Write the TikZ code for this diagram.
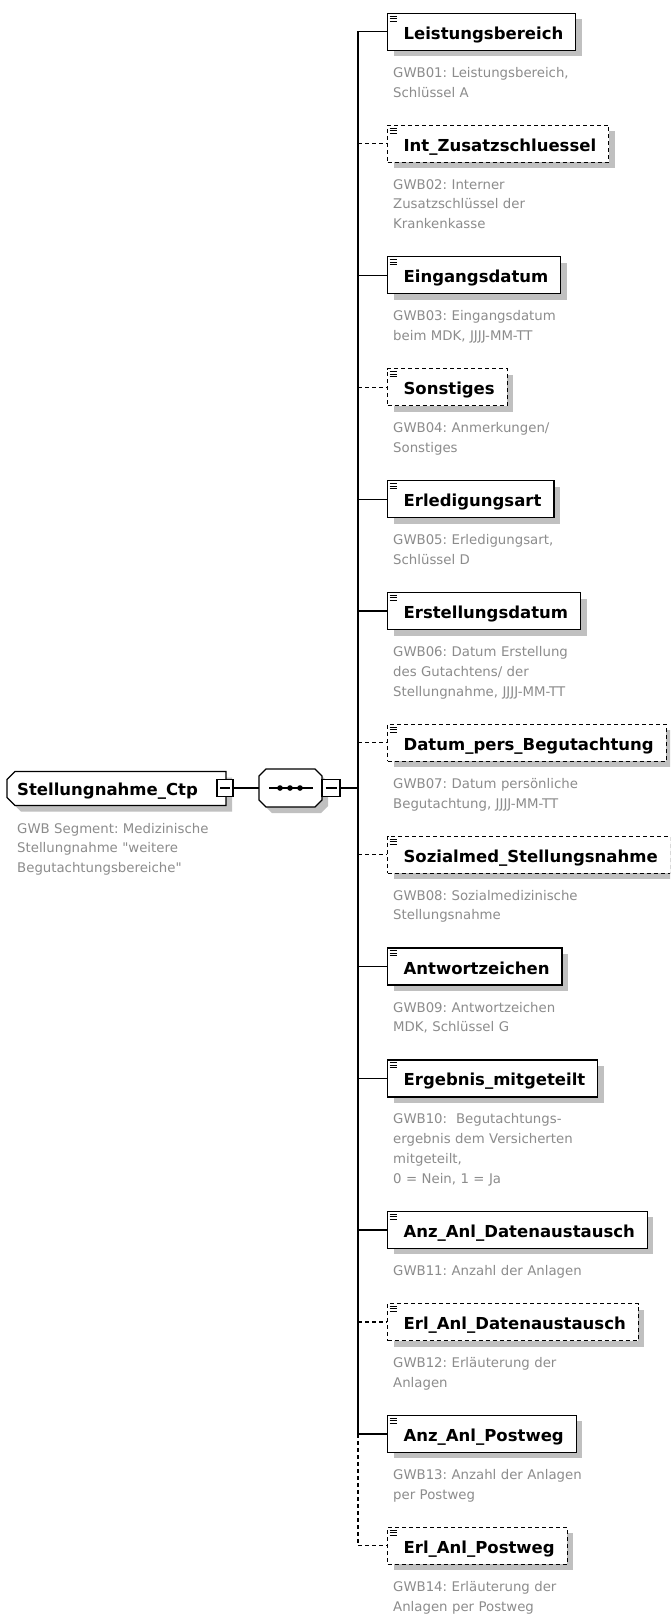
\documentclass[tikz,border=0pt]{standalone}
\usepackage{fontspec}
\setmainfont{DejaVu Sans}
\newfontfamily\qfont{DejaVu Sans}
\usetikzlibrary{shadows}
\definecolor{descgray}{RGB}{140,140,140}
\definecolor{shadowgray}{RGB}{192,192,192}
\frenchspacing
\begin{document}
\begin{tikzpicture}[x=1pt,y=-1pt,
  elem/.style={draw=black, line width=1.2pt, fill=white, anchor=west,
    minimum height=37pt, inner ysep=0pt, inner xsep=12.5pt,
    text height=17.5pt, text depth=2.5pt,
    font=\fontsize{16.5}{20}\selectfont\bfseries,
    drop shadow={shadow xshift=6pt, shadow yshift=-6pt, fill=shadowgray, opacity=1, draw=none}},
  optelem/.style={elem, dash pattern=on 4pt off 3pt},
  desc/.style={anchor=base west, inner sep=0pt, text width=270pt, align=left,
    text=descgray, font=\fontsize{13.3}{19.8}\selectfont},
  conn/.style={line width=1.2pt, draw=black},
  optconn/.style={conn, dash pattern=on 4pt off 3pt},
  pmbox/.style={draw=black, line width=1.2pt, fill=white, minimum width=16pt, minimum height=17pt, inner sep=0pt},
  iconline/.style={line width=0.9pt, draw=black}
]
\useasboundingbox (0,0) rectangle (670,1615);
\fill[white] (0,0) rectangle (670,1615);
\clip (0,0) rectangle (670,1615);

% root element
\fill[shadowgray] (21,777.5) -- (232,777.5) -- (232,811.5) -- (21,811.5) -- (13,803.5) -- (13,785.5) -- cycle;
\draw[conn, fill=white] (15,771.5) -- (226,771.5) -- (226,805.5) -- (15,805.5) -- (7,797.5) -- (7,779.5) -- cycle;
\node[anchor=base west, inner sep=0pt, font=\fontsize{16.5}{20}\selectfont\bfseries] (root) at (17,795) {Stellungnahme\_Ctp};
\node[pmbox] (rootpm) at (225,788) {};
\draw[conn] ([xshift=-5pt]rootpm.center) -- ([xshift=5pt]rootpm.center);
\node[desc] (rootdesc) at (17,833) {GWB Segment: Medizinische\\Stellungnahme {\qfont"}weitere\\Begutachtungsbereiche{\qfont"}};

% sequence compositor
\node[minimum width=63pt, minimum height=38pt, inner sep=0pt] (seq) at (290.5,788) {};
\fill[shadowgray] (272,775) -- (321,775) -- (328,782) -- (328,806) -- (321,813) -- (272,813) -- (265,806) -- (265,782) -- cycle;
\draw[conn, fill=white] (266,769) -- (315,769) -- (322,776) -- (322,800) -- (315,807) -- (266,807) -- (259,800) -- (259,776) -- cycle;
\draw[conn] (269,788) -- (313,788);
\foreach \x in {280,290,300} \fill[black] (\x,788) circle (2.8);
\node[pmbox, minimum width=18pt] (seqpm) at (331,788) {};
\draw[conn] ([xshift=-5.5pt]seqpm.center) -- ([xshift=5.5pt]seqpm.center);

\coordinate (busx) at (358,0);

% child elements
\node[elem]    (e1)  at (387,31.7)   {\hspace*{3.5pt}Leistungsbereich};
\node[optelem] (e2)  at (387,143.6)  {\hspace*{3.5pt}Int\_Zusatzschluessel};
\node[elem]    (e3)  at (387,275.3)  {\hspace*{3.5pt}Eingangsdatum};
\node[optelem] (e4)  at (387,387.2)  {\hspace*{3.5pt}Sonstiges};
\node[elem]    (e5)  at (387,499.1)  {\hspace*{3.5pt}Erledigungsart};
\node[elem]    (e6)  at (387,611.0)  {\hspace*{3.5pt}Erstellungsdatum};
\node[optelem] (e7)  at (387,742.7)  {\hspace*{3.5pt}Datum\_pers\_Begutachtung};
\node[optelem] (e8)  at (387,854.6)  {\hspace*{3.5pt}Sozialmed\_Stellungsnahme};
\node[elem]    (e9)  at (387,966.5)  {\hspace*{3.5pt}Antwortzeichen};
\node[elem]    (e10) at (387,1078.4) {\hspace*{3.5pt}Ergebnis\_mitgeteilt};
\node[elem]    (e11) at (387,1229.9) {\hspace*{3.5pt}Anz\_Anl\_Datenaustausch};
\node[optelem] (e12) at (387,1322.0) {\hspace*{3.5pt}Erl\_Anl\_Datenaustausch};
\node[elem]    (e13) at (387,1433.9) {\hspace*{3.5pt}Anz\_Anl\_Postweg};
\node[optelem] (e14) at (387,1545.8) {\hspace*{3.5pt}Erl\_Anl\_Postweg};

% icons
\foreach \n in {e1,e2,e3,e4,e5,e6,e7,e8,e9,e10,e11,e12,e13,e14}{
  \draw[iconline] ([shift={(2.5,3.5)}]\n.north west) -- ++(7.5,0);
  \draw[iconline] ([shift={(2.5,6)}]\n.north west) -- ++(7.5,0);
  \draw[iconline] ([shift={(2.5,8.5)}]\n.north west) -- ++(7.5,0);
}

% descriptions
\node[desc] (d1)  at (393,77.2)   {GWB01: Leistungsbereich,\\Schlüssel A};
\node[desc] (d2)  at (393,189.1)  {GWB02: Interner\\Zusatzschlüssel der\\Krankenkasse};
\node[desc] (d3)  at (393,320.8)  {GWB03: Eingangsdatum\\beim MDK, JJJJ-MM-TT};
\node[desc] (d4)  at (393,432.7)  {GWB04: Anmerkungen/\\Sonstiges};
\node[desc] (d5)  at (393,544.6)  {GWB05: Erledigungsart,\\Schlüssel D};
\node[desc] (d6)  at (393,656.5)  {GWB06: Datum Erstellung\\des Gutachtens/ der\\Stellungnahme, JJJJ-MM-TT};
\node[desc] (d7)  at (393,788.2)  {GWB07: Datum persönliche\\Begutachtung, JJJJ-MM-TT};
\node[desc] (d8)  at (393,900.1)  {GWB08: Sozialmedizinische\\Stellungsnahme};
\node[desc] (d9)  at (393,1012.0) {GWB09: Antwortzeichen\\MDK, Schlüssel G};
\node[desc] (d10) at (393,1123.9) {GWB10:\ \ Begutachtungs-\\ergebnis dem Versicherten\\mitgeteilt,\\0 = Nein, 1 = Ja};
\node[desc] (d11) at (393,1275.4) {GWB11: Anzahl der Anlagen};
\node[desc] (d12) at (393,1367.5) {GWB12: Erläuterung der\\Anlagen};
\node[desc] (d13) at (393,1479.4) {GWB13: Anzahl der Anlagen\\per Postweg};
\node[desc] (d14) at (393,1591.3) {GWB14: Erläuterung der\\Anlagen per Postweg};

% connectors
\draw[conn] (rootpm.east) -- (seq.west);
\draw[conn] (seqpm.east) -- (seqpm.east -| busx);
\draw[conn] (e1.west) -- (e1.west -| busx) -- (e13.west -| busx);
\draw[optconn] (e13.west -| busx) -- (e14.west -| busx);
\foreach \n in {e3,e5,e6,e9,e10,e11,e13}{
  \draw[conn] (\n.west -| busx) -- (\n.west);
}
\foreach \n in {e2,e4,e7,e8,e12,e14}{
  \draw[optconn] (\n.west -| busx) -- (\n.west);
}
\end{tikzpicture}
\end{document}
